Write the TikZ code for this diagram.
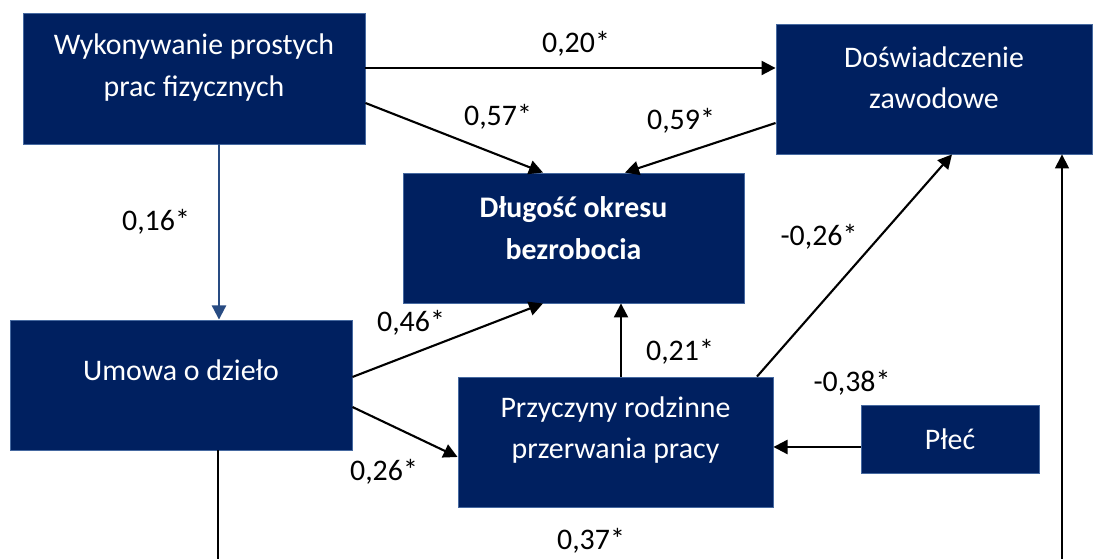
\documentclass[tikz,border=0pt]{standalone}
\usepackage{fontspec}
\setmainfont{Carlito}
\usetikzlibrary{arrows.meta}

\definecolor{navy}{RGB}{0,32,96}
\definecolor{rim}{RGB}{70,105,160}
\definecolor{bluelink}{RGB}{40,75,130}

\begin{document}
\begin{tikzpicture}[box/.style = {fill=navy, draw=rim, line width=0.5pt, minimum width=6.84cm, minimum height=2.6cm, inner sep=0pt},
		boxtext/.style = {text=white, align=center, font=\fontsize{17}{23.5}\selectfont},
		coef/.style = {font=\fontsize{17}{20}\selectfont},
		link/.style = {line width=1.2pt, -{Triangle[length=8pt,width=8pt]}}]
		\clip (0,0) rectangle (22.08,11.18);
		
		% boxes, text sits a bit above the middle
		\node[box, minimum height=2.62cm, label={[boxtext, yshift=0.22cm]center:{Wykonywanie prostych\\prac fizycznych}}] (wyk) at (3.88,9.61) {};
		\node[box, minimum width=6.32cm, label={[boxtext, yshift=0.22cm]center:{Doświadczenie\\zawodowe}}] (dos) at (18.68,9.40) {};
		\node[box, minimum width=6.82cm, label={[boxtext, font=\fontsize{17}{23.5}\selectfont\bfseries, yshift=0.2cm]center:{Długość okresu\\bezrobocia}}] (dlu) at (11.47,6.42) {};
		\node[box, label={[boxtext, yshift=0.3cm]center:{Umowa o dzieło}}] (umo) at (3.62,3.48) {};
		\node[box, minimum width=6.30cm, label={[boxtext, yshift=0.24cm]center:{Przyczyny rodzinne\\przerwania pracy}}] (prz) at (12.31,2.34) {};
		\node[box, minimum width=3.56cm, minimum height=1.36cm, label={[boxtext]center:{Płeć}}] (ple) at (19.00,2.40) {};
		
		% paths
		\draw[link] ([yshift=0.21cm]wyk.east) -- ([yshift=0.21cm]wyk.east -| dos.west);
		\draw[link] ([yshift=-0.49cm]wyk.east) -- ([xshift=-0.61cm]dlu.north);
		\draw[link] ([yshift=-0.68cm]dos.west) -- ([xshift=1.03cm]dlu.north);
		\draw[link, bluelink] ([xshift=0.5cm]wyk.south) -- ([xshift=0.5cm]wyk.south |- umo.north);
		\draw[link] ([yshift=0.16cm]umo.east) -- ([xshift=-0.61cm]dlu.south);
		\draw[link] ([yshift=-0.44cm]umo.east) -- ([yshift=-0.30cm]prz.west);
		\draw[link] ([xshift=0.11cm]prz.north) -- ([xshift=0.11cm]prz.north |- dlu.south);
		\draw[link] ([xshift=2.83cm]prz.north) -- ([xshift=0.36cm]dos.south);
		\draw[link] ([yshift=-0.16cm]ple.west) -- ([yshift=-0.16cm]ple.west -| prz.east);
		\draw[link, line width=0.8pt] ([xshift=0.74cm]umo.south) -- ++(0,-4) -| ([xshift=2.56cm]dos.south);
		
		% coefficients
		\node[coef] (c1) at (11.52,10.30) {0,20*};
		\node[coef] (c2) at (9.96,8.84) {0,57*};
		\node[coef] (c3) at (13.62,8.76) {0,59*};
		\node[coef] (c4) at (3.12,6.74) {0,16*};
		\node[coef] (c5) at (8.22,4.72) {0,46*};
		\node[coef] (c6) at (7.68,1.74) {0,26*};
		\node[coef] (c7) at (13.60,4.14) {0,21*};
		\node[coef] (c8) at (16.38,6.44) {-0,26*};
		\node[coef] (c9) at (17.04,3.52) {-0,38*};
		\node[coef] (c10) at (11.82,0.36) {0,37*};
	\end{tikzpicture}
\end{document}
